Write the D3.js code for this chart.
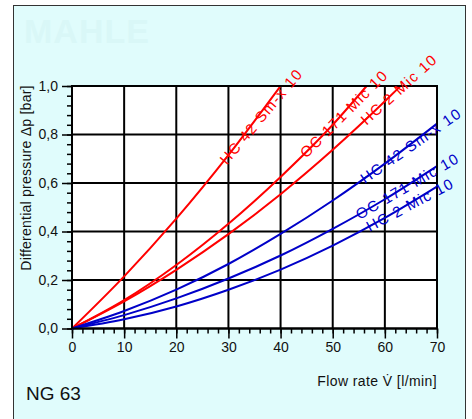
<!DOCTYPE html>
<html>
<head>
<meta charset="utf-8">
<script src="https://cdn.jsdelivr.net/npm/d3@7"></script>
<style>
  html, body { margin: 0; padding: 0; background: #fff; }
  svg { display: block; font-family: "Liberation Sans", Arial, sans-serif; }
</style>
</head>
<body>
<svg id="chart" width="472" height="419"></svg>
<script>
// axis ticks
const flowTicks = [0, 10, 20, 30, 40, 50, 60, 70];
const pressureTicks = [0, 0.2, 0.4, 0.6, 0.8, 1.0];

// curves: [flow l/min, dp bar]
const redHc42Smx = [[0,0],[10,0.215],[20,0.453],[30,0.715],[40,1.0]];
const redOc171Mic = [[0,0],[10,0.117],[20,0.262],[30,0.432],[40,0.625],[50,0.84],[56.5,1.0]];
const redHc2Mic = [[0,0],[10,0.112],[20,0.242],[30,0.389],[40,0.554],[50,0.737],[60,0.937],[63,1.0]];
const blueHc42Smx = [[0,0],[10,0.072],[20,0.16],[30,0.266],[40,0.39],[50,0.528],[60,0.68],[70,0.845]];
const blueOc171Mic = [[0,0],[10,0.055],[20,0.124],[30,0.206],[40,0.301],[50,0.411],[60,0.533],[70,0.67]];
const blueHc2Mic = [[0,0],[10,0.038],[20,0.091],[30,0.16],[40,0.243],[50,0.342],[60,0.456],[70,0.585]];

const seriesNames = ["HC 42 Sm-x 10", "OC 171 Mic 10", "HC 2 Mic 10", "HC 42 Sm-x 10", "OC 171 Mic 10", "HC 2 Mic 10"];
const seriesData = [redHc42Smx, redOc171Mic, redHc2Mic, blueHc42Smx, blueOc171Mic, blueHc2Mic];
// flow where each label starts, and its rotation
const labelStart = [28.9, 44.2, 55.8, 55.6, 54.6, 56.6];
const labelAngle = [-50, -45, -42, -35, -30, -28];

const svg = d3.select("#chart");

// panel
svg.append("rect").attr("x", 13.5).attr("y", 5.5).attr("width", 452).attr("height", 430)
  .attr("fill", "#e0fcfc").attr("stroke", "#333").attr("stroke-width", 1);

svg.append("text").attr("x", 24).attr("y", 43)
  .attr("font-size", 34).attr("font-weight", "bold").attr("letter-spacing", 1)
  .attr("fill", "#d9f7f7").text("MAHLE");

const x = d3.scaleLinear().domain([0, 70]).range([72, 437]);
const y = d3.scaleLinear().domain([0, 1]).range([328.5, 86]);

svg.append("rect").attr("x", x(0)).attr("y", y(1)).attr("width", x(70) - x(0)).attr("height", y(0) - y(1))
  .attr("fill", "#fff");

// grid
const grid = svg.append("g").attr("stroke", "#000").attr("stroke-width", 2);
grid.selectAll(".vx").data(flowTicks).enter().append("line")
  .attr("x1", d => x(d)).attr("x2", d => x(d)).attr("y1", y(0)).attr("y2", y(1));
grid.selectAll(".hy").data(pressureTicks).enter().append("line")
  .attr("x1", x(0)).attr("x2", x(70)).attr("y1", d => y(d)).attr("y2", d => y(d));

// axes
const xAxis = svg.append("g").attr("transform", `translate(0,${y(0)})`)
  .call(d3.axisBottom(x).tickValues(d3.range(0, 71, 2)).tickSize(5).tickFormat(""));
const xMajor = svg.append("g").attr("transform", `translate(0,${y(0)})`)
  .call(d3.axisBottom(x).tickValues(flowTicks).tickSize(10).tickPadding(4).tickFormat(d3.format("d")));
const yAxis = svg.append("g").attr("transform", `translate(${x(0)},0)`)
  .call(d3.axisLeft(y).tickValues(d3.range(0, 1.001, 0.04)).tickSize(5).tickFormat(""));
const yMajor = svg.append("g").attr("transform", `translate(${x(0)},0)`)
  .call(d3.axisLeft(y).tickValues(pressureTicks).tickSize(10).tickPadding(4)
    .tickFormat(d => d3.format(".1f")(d).replace(".", ",")));
[xAxis, xMajor, yAxis, yMajor].forEach(g => {
  g.select(".domain").remove();
  g.selectAll(".tick line").attr("stroke", "#000").attr("stroke-width", 1.5);
  g.selectAll(".tick text").attr("font-size", 14).attr("fill", "#111")
    .attr("font-family", "Liberation Sans, Arial, sans-serif");
});

// curves
const line = d3.line().x(d => x(d[0])).y(d => y(d[1])).curve(d3.curveMonotoneX);
seriesData.forEach((pts, i) => {
  const col = i < 3 ? "#ff0000" : "#0000c8";
  svg.append("path").datum(pts).attr("d", line)
    .attr("fill", "none").attr("stroke", col).attr("stroke-width", 2);
});

// plot border
svg.append("rect").attr("x", x(0)).attr("y", y(1)).attr("width", x(70) - x(0)).attr("height", y(0) - y(1))
  .attr("fill", "none").attr("stroke", "#000").attr("stroke-width", 2);

// curve labels sitting on the lines
function valueAt(pts, f) {
  for (let k = 1; k < pts.length; k++) {
    if (f <= pts[k][0]) {
      const t = (f - pts[k - 1][0]) / (pts[k][0] - pts[k - 1][0]);
      return pts[k - 1][1] + t * (pts[k][1] - pts[k - 1][1]);
    }
  }
  return pts[pts.length - 1][1];
}
seriesData.forEach((pts, i) => {
  const col = i < 3 ? "#ff0000" : "#0000c8";
  const px = x(labelStart[i]), py = y(valueAt(pts, labelStart[i]));
  svg.append("text")
    .attr("transform", `translate(${px},${py}) rotate(${labelAngle[i]})`)
    .attr("dy", "0.36em").attr("font-size", 15).attr("letter-spacing", 1.3).attr("fill", col)
    .text(seriesNames[i]);
});

// titles
svg.append("text").attr("transform", "translate(31,178) rotate(-90)")
  .attr("text-anchor", "middle").attr("font-size", 14).attr("letter-spacing", 0.25).attr("fill", "#111")
  .text("Differential pressure \u0394p [bar]");
svg.append("text").attr("x", 437).attr("y", 386).attr("text-anchor", "end")
  .attr("font-size", 14).attr("letter-spacing", 0.4).attr("fill", "#111").text("Flow rate V\u0307 [l/min]");
svg.append("text").attr("x", 26).attr("y", 400).attr("font-size", 19).attr("fill", "#111").text("NG 63");
</script>
</body>
</html>
